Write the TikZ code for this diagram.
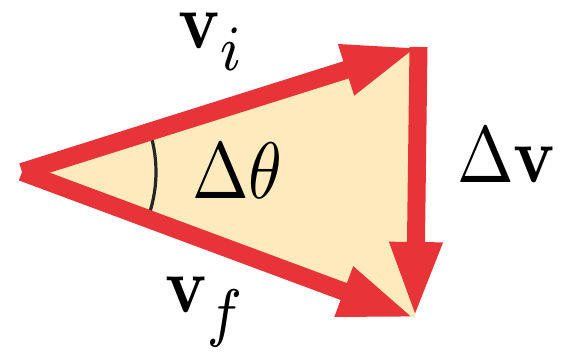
\documentclass[tikz,border=0pt]{standalone}
\usepackage{graphicx}
\usetikzlibrary{arrows.meta}
\definecolor{vecred}{RGB}{232,52,56}
\definecolor{wedge}{RGB}{253,235,190}
\newcommand{\biglbl}[1]{\scalebox{6.8}[8]{$#1$}}
\newcommand{\lowsub}[1]{\raisebox{-1.3pt}{\scalebox{1.15}{$\scriptstyle #1$}}}
\begin{document}
\begin{tikzpicture}[x=1pt,y=-1pt,
  vec/.style={draw=vecred, line width=18pt, -{Triangle[length=76pt,width=48pt]}},
  lbl/.style={anchor=base west, inner sep=0pt}]
\useasboundingbox (0,0) rectangle (562,354);
% corners of the triangle
\coordinate (A) at (22,172);
\coordinate (B) at (418.5,47);
\coordinate (C) at (415,318);
\fill[wedge] (A) -- (B) -- (C) -- cycle;
% angle mark
\draw[line width=3.2pt, black!85] (A) ++(-17:134) arc (-17:21:134);
\draw[vec] (A) -- (B);
\draw[vec] (A) -- (C);
\draw[vec] (B) -- (C);
\node[lbl] (vi) at (178,48) {\biglbl{\mathbf{v}_{\lowsub{i}}}};
\node[lbl] (vf) at (165,312) {\biglbl{\mathbf{v}_{\lowsub{f}}}};
\node[lbl] (dth) at (192,198) {\biglbl{\Delta\theta}};
\node[lbl] (dv) at (457,182) {\biglbl{\Delta\mathbf{v}}};
\end{tikzpicture}
\end{document}
